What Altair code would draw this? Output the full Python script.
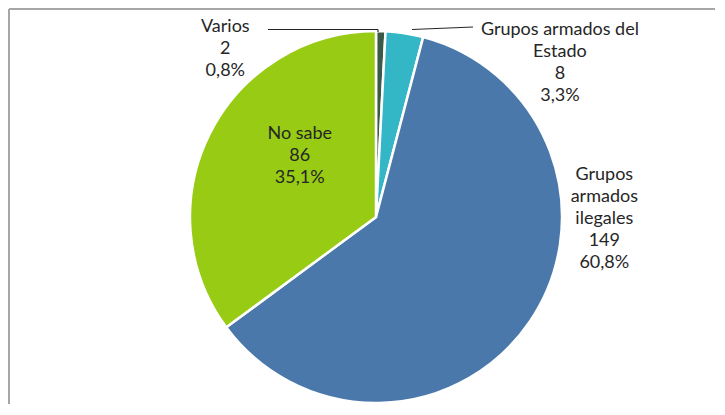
import altair as alt
import pandas as pd

categories = ["Varios", "Grupos armados del Estado", "Grupos armados ilegales", "No sabe"]
counts = [2, 8, 149, 86]
percents = ["0,8%", "3,3%", "60,8%", "35,1%"]
label_names = ["Varios", "Grupos armados del\nEstado", "Grupos\narmados\nilegales", "No sabe"]
colors = ["#3b5a46", "#33b7c7", "#4a78aa", "#97cb14"]

df = pd.DataFrame({
    "categoria": categories,
    "n": counts,
    "pct": percents,
    "nombre": label_names,
    "orden": list(range(len(categories))),
})
df["etiqueta"] = df["nombre"] + "\n" + df["n"].astype(str) + "\n" + df["pct"]

W, H = 707, 396
CX, CY = 368, 209
FONT = "Lato"
LH = 22

pie = alt.Chart(df).mark_arc(outerRadius=186, stroke="white", strokeWidth=2.5).encode(
    theta=alt.Theta("n:Q", stack=True),
    order=alt.Order("orden:Q"),
    color=alt.Color("categoria:N", scale=alt.Scale(domain=categories, range=colors), legend=None),
    x=alt.value(CX), y=alt.value(CY),
)

label_base = alt.Chart(df).transform_joinaggregate(
    total="sum(n)"
).transform_window(
    cum="sum(n)", sort=[alt.SortField("orden")], frame=[None, 0]
).transform_calculate(
    mid="2 * PI * (datum.cum - datum.n / 2) / datum.total"
)

# (radius, dx, dy-of-block-centre, number of lines)
label_layout = {
    "Varios": (168, -155, 0, 3),
    "Grupos armados del Estado": (156, 160, 0, 4),
    "Grupos armados ilegales": (230, 38, -127, 5),
    "No sabe": (100, 13, -16, 3),
}

texts = []
for cat, (r, dx, dy, nl) in label_layout.items():
    t = label_base.transform_filter(alt.datum.categoria == cat).mark_text(
        font=FONT, fontSize=18, color="#262626", lineBreak="\n", lineHeight=LH,
        align="center", baseline="middle", radius=r, dx=dx, dy=dy - (nl - 1) * LH / 2,
    ).encode(
        theta=alt.Theta("mid:Q", scale=None),
        text="etiqueta:N", x=alt.value(CX), y=alt.value(CY),
    )
    texts.append(t)

one = alt.Chart(df).transform_filter(alt.datum.categoria == "Varios")
lead1 = one.mark_rule(color="#262626", strokeWidth=1.2).encode(
    x=alt.value(260), x2=alt.value(370), y=alt.value(21.5), y2=alt.value(21.5)
)
lead1b = one.mark_rule(color="#262626", strokeWidth=1.2).encode(
    x=alt.value(370), x2=alt.value(370), y=alt.value(21.5), y2=alt.value(24)
)
lead2 = one.mark_rule(color="#262626", strokeWidth=1.2).encode(
    x=alt.value(404), x2=alt.value(465), y=alt.value(21.5), y2=alt.value(19)
)
frame_top = one.mark_rule(color="#a6a6a6", strokeWidth=2).encode(
    x=alt.value(1), x2=alt.value(W), y=alt.value(1), y2=alt.value(1)
)
frame_left = one.mark_rule(color="#a6a6a6", strokeWidth=2).encode(
    x=alt.value(1), x2=alt.value(1), y=alt.value(1), y2=alt.value(H)
)

chart = alt.layer(pie, *texts, lead1, lead1b, lead2, frame_top, frame_left).properties(
    width=W, height=H, padding=0,
).configure_view(stroke=None)

chart.save("out.html", embed_options={"renderer": "svg", "actions": False})
